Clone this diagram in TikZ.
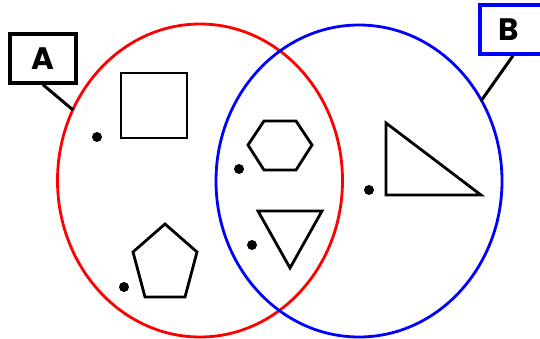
\documentclass[tikz,border=0pt]{standalone}
\usepackage{fontspec}
\setmainfont{Poppins}
\usetikzlibrary{positioning}

\begin{document}
\begin{tikzpicture}[x=1pt, y=-1pt,
        setring/.style={line width=2.8pt},
        shapeline/.style={draw=black, line width=2.8pt, line join=miter},
        tag/.style={rectangle, draw, line width=3.4pt, minimum width=66pt, minimum height=49pt, font=\fontsize{31}{31}\selectfont\bfseries, inner sep=0pt},
        pt/.style={circle, fill=black, inner sep=0pt, minimum size=10pt},
        pointer/.style={line width=3pt, black},
    ]
    \useasboundingbox (0, 0) rectangle (540, 339);

    % The two sets
    \draw[setring, red] (200, 180.5) ellipse (142.5 and 156.5);
    \draw[setring, blue] (359, 181) ellipse (143 and 156);

    % Labels
    \node[tag, draw=black] (labA) at (43, 58.5) {A};
    \node[tag, draw=blue] (labB) at (513, 29.5) {\hspace*{-8pt}B};
    \coordinate (onA) at (73, 110);
    \coordinate (onB) at (481, 101);
    \draw[pointer] (labA.south) -- (onA);
    \draw[pointer] (labB.south) -- (onB);

    % Shapes in A only
    \draw[shapeline] (121, 73) rectangle (187, 138);
    \draw[shapeline] (165, 224) -- (133, 252) -- (145, 297) -- (185, 297) -- (197, 252) -- cycle;

    % Shapes in both
    \draw[shapeline] (248, 145) -- (264, 121) -- (296, 121) -- (312, 145) -- (296, 170) -- (264, 170) -- cycle;
    \draw[shapeline] (258, 211) -- (322, 211) -- (290, 268) -- cycle;

    % Shape in B only
    \draw[shapeline] (386, 123) -- (386, 195) -- (481, 195) -- cycle;

    % Points
    \foreach \x/\y/\n in {97/137/sq, 124/287/pe, 239/169/hx, 252/245/tr, 369/190/rt} {
        \node[pt] (dot-\n) at (\x, \y) {};
    }
\end{tikzpicture}
\end{document}
